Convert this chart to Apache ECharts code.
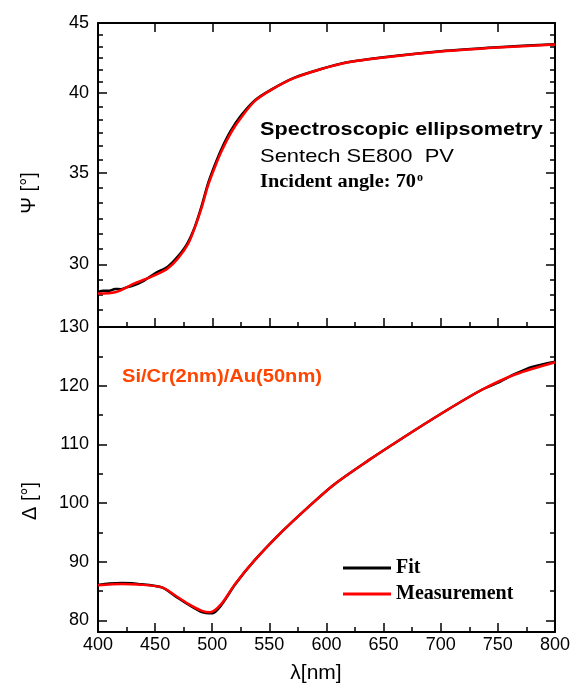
<!DOCTYPE html>
<html>
<head>
<meta charset="utf-8">
<title>Spectroscopic ellipsometry</title>
<script src="https://cdn.jsdelivr.net/npm/echarts@6/dist/echarts.min.js"></script>
<style>
  *{margin:0;padding:0;}
  body{background:#fff;}
  #chart{width:573px;height:683px;}
</style>
</head>
<body>
<div id="chart"></div>
<script>
// Psi panel (log-like axis in the original), values in degrees
var psiWaveMeas = [400,415,432,450,461,470,479,485,491,496,502,508,517,526,537,552,572,596,616,650,700,750,800];
var psiMeas     = [28.56,28.62,29.05,29.46,29.79,30.30,31.06,31.95,33.05,34.19,35.27,36.26,37.50,38.46,39.45,40.23,41.03,41.66,42.08,42.46,42.89,43.18,43.40];
var psiWaveFit  = [400,405,410,415,420,425,430,440,450,461,470,478,485,491,496,502,508,516,525,537,552,572,596,616,650,700,750,800];
var psiFit      = [28.64,28.70,28.69,28.78,28.77,28.86,28.93,29.18,29.55,29.88,30.40,31.05,31.99,33.15,34.30,35.40,36.40,37.52,38.50,39.50,40.25,41.05,41.67,42.09,42.48,42.91,43.20,43.43];

// Delta panel
var deltaWaveMeas = [400,421,435,456,467,479,491,498,508,520,537,561,584,607,637,666,701,736,765,800];
var deltaMeas     = [85.95,86.2,86.1,85.6,84.3,82.8,81.6,81.35,82.8,86.2,90.2,95.1,99.3,103.2,107.3,111.0,115.3,119.3,121.9,124.0];
var deltaWaveFit  = [400,410,421,430,435,445,456,467,479,491,500,508,520,537,561,584,607,637,666,701,736,750,765,780,800];
var deltaFit      = [86.0,86.25,86.35,86.3,86.2,86.0,85.6,84.2,82.7,81.4,81.2,82.6,86.1,90.2,95.1,99.3,103.2,107.3,111.0,115.3,119.3,120.5,122.0,123.2,124.1];

var psiTicks = [30,35,40,45];
var deltaTicks = [80,90,100,110,120,130];
var deltaMinor = [85,95,105,115,125];

function lg(v){ return Math.log10(v); }

// minor ticks of the psi axis: 5 between each pair of labels, evenly spaced
var psiMajor = psiTicks.map(lg);
var psiMinor = [];
for (var i = 0; i < psiMajor.length - 1; i++) {
    for (var k = 1; k <= 5; k++) psiMinor.push(psiMajor[i] + (psiMajor[i+1] - psiMajor[i]) * k / 6);
}
var step = (psiMajor[1] - psiMajor[0]) / 6;
for (var k = 1; k <= 3; k++) psiMinor.push(psiMajor[0] - k * step);

function pairs(xs, ys, f){
    return xs.map(function(x, i){ return [x, f ? f(ys[i]) : ys[i]]; });
}

var black = '#000';
var sans = 'Liberation Sans, Arial, sans-serif';
var serif = 'Liberation Serif, Times New Roman, serif';

// note: no fontFamily on axis labels, it made the ticks disappear here
function yAx(grid, side, min, max, ticks, len, line, label, fmt){
    var ax = {
        type: 'value', gridIndex: grid, position: side, min: min, max: max,
        axisLine: {show: line, lineStyle: {color: black, width: 2}},
        axisTick: {show: true, inside: true, length: len, customValues: ticks, lineStyle: {color: black, width: 1.5}},
        axisLabel: {show: label, customValues: ticks, color: black, fontSize: 18, margin: 9},
        splitLine: {show: false}
    };
    if (fmt) ax.axisLabel.formatter = fmt;
    return ax;
}

function xAx(grid, side, minor, label){
    return {
        type: 'value', gridIndex: grid, position: side, min: 400, max: 800, interval: 50,
        axisLine: {show: true, lineStyle: {color: black, width: 2}},
        axisTick: {show: true, inside: true, length: 9, lineStyle: {color: black, width: 1.5}},
        minorTick: {show: minor, splitNumber: 2, length: 5, lineStyle: {color: black, width: 1.5}},
        axisLabel: {show: label, color: black, fontSize: 18, margin: 4},
        splitLine: {show: false}
    };
}

var psiFmt = function(v){ return String(Math.round(Math.pow(10, v))); };

var option = {
    backgroundColor: '#fff',
    animation: false,
    color: ['#000000', '#ff0000'],
    grid: [
        {left: 98, top: 23, width: 457, height: 304},
        {left: 98, top: 327, width: 457, height: 305}
    ],
    xAxis: [
        xAx(0, 'bottom', true, false),
        xAx(0, 'top', false, false),
        xAx(1, 'bottom', true, true)
    ],
    yAxis: [
        yAx(0, 'left', lg(27), lg(45), psiMajor, 9, true, true, psiFmt),
        yAx(0, 'left', lg(27), lg(45), psiMinor, 5, false, false),
        yAx(0, 'right', lg(27), lg(45), psiMajor, 9, true, false),
        yAx(0, 'right', lg(27), lg(45), psiMinor, 5, false, false),
        yAx(1, 'left', 78, 130, deltaTicks, 9, true, true),
        yAx(1, 'left', 78, 130, deltaMinor, 5, false, false),
        yAx(1, 'right', 78, 130, deltaTicks, 9, true, false),
        yAx(1, 'right', 78, 130, deltaMinor, 5, false, false)
    ],
    legend: {
        data: ['Fit', 'Measurement'],
        orient: 'vertical', left: 338, top: 553,
        icon: 'rect', itemWidth: 48, itemHeight: 3, itemGap: 6,
        textStyle: {color: black, fontFamily: serif, fontWeight: 'bold', fontSize: 20}
    },
    series: [
        {name: 'Fit', type: 'line', xAxisIndex: 0, yAxisIndex: 0, data: pairs(psiWaveFit, psiFit, lg),
         symbol: 'none', smooth: 0.3, lineStyle: {width: 2.5}},
        {name: 'Fit', type: 'line', xAxisIndex: 2, yAxisIndex: 4, data: pairs(deltaWaveFit, deltaFit),
         symbol: 'none', smooth: 0.3, lineStyle: {width: 2.5}},
        {name: 'Measurement', type: 'line', xAxisIndex: 0, yAxisIndex: 0, data: pairs(psiWaveMeas, psiMeas, lg),
         symbol: 'none', smooth: 0.3, lineStyle: {width: 2.5}},
        {name: 'Measurement', type: 'line', xAxisIndex: 2, yAxisIndex: 4, data: pairs(deltaWaveMeas, deltaMeas),
         symbol: 'none', smooth: 0.3, lineStyle: {width: 2.5}}
    ],
    graphic: [
        {type: 'text', x: 29, y: 193, rotation: Math.PI / 2,
         style: {text: 'Ψ [°]', fill: black, fontSize: 20, fontFamily: sans, align: 'center', verticalAlign: 'middle'}},
        {type: 'text', x: 30, y: 501, rotation: Math.PI / 2,
         style: {text: 'Δ [°]', fill: black, fontSize: 20, fontFamily: sans, align: 'center', verticalAlign: 'middle'}},
        {type: 'text', x: 316, y: 673,
         style: {text: 'λ[nm]', fill: black, fontSize: 21, fontFamily: sans, align: 'center', verticalAlign: 'middle'}},
        {type: 'text', x: 260, y: 130, scaleX: 1.17,
         style: {text: 'Spectroscopic ellipsometry', fill: black, fontSize: 18.5, fontWeight: 'bold', fontFamily: sans, align: 'left', verticalAlign: 'middle'}},
        {type: 'text', x: 260, y: 157, scaleX: 1.155,
         style: {text: 'Sentech SE800  PV', fill: black, fontSize: 19, fontFamily: sans, align: 'left', verticalAlign: 'middle'}},
        {type: 'text', x: 260, y: 182, scaleX: 1.1,
         style: {text: 'Incident angle: 70', fill: black, fontSize: 18.5, fontWeight: 'bold', fontFamily: serif, align: 'left', verticalAlign: 'middle'}},
        {type: 'text', x: 417, y: 178,
         style: {text: 'o', fill: black, fontSize: 12, fontWeight: 'bold', fontFamily: serif, align: 'left', verticalAlign: 'middle'}},
        {type: 'text', x: 122, y: 377, scaleX: 1.117,
         style: {text: 'Si/Cr(2nm)/Au(50nm)', fill: '#ff4500', fontSize: 18, fontWeight: 'bold', fontFamily: sans, align: 'left', verticalAlign: 'middle'}}
    ]
};

var chart = echarts.init(document.getElementById('chart'));
chart.setOption(option);
</script>
</body>
</html>
